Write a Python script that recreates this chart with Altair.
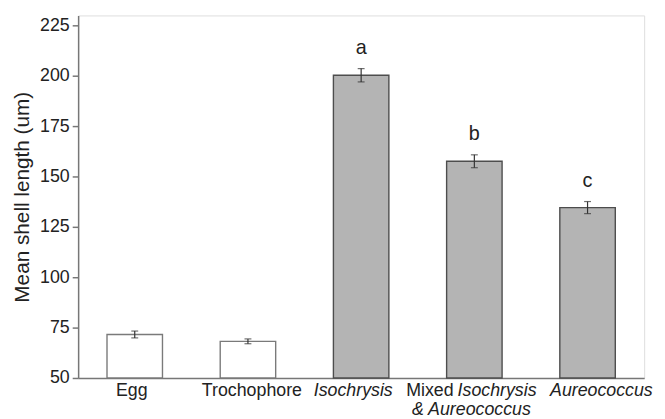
import altair as alt
import pandas as pd

categories = ["Egg", "Trochophore", "Isochrysis", "Mixed", "Aureococcus"]
means = [71.6, 68.2, 200.3, 157.6, 134.6]
errors = [1.7, 1.2, 3.3, 3.2, 3.0]
letters = ["", "", "a", "b", "c"]
groups = ["stage", "stage", "diet", "diet", "diet"]

label_cats = ["Egg", "Trochophore", "Isochrysis", "Mixed", "Mixed", "Mixed", "Aureococcus"]
label_texts = ["Egg", "Trochophore", "Isochrysis", "Mixed", "Isochrysis", "& Aureococcus", "Aureococcus"]
label_styles = ["normal", "normal", "italic", "normal", "italic", "italic", "italic"]
label_aligns = ["center", "center", "center", "right", "left", "center", "center"]
label_dx = [-3, 4, -8, -21, -17, -3, 14]
label_dy = [18, 18, 18, 18, 18, 37, 18]

FONT = "Liberation Sans"

df = pd.DataFrame({
    "cat": categories,
    "mean": means,
    "lo": [m - e for m, e in zip(means, errors)],
    "hi": [m + e for m, e in zip(means, errors)],
    "letter": letters,
    "group": groups,
})

xscale = alt.Scale(domain=categories, paddingInner=0.51, paddingOuter=0.255)
yscale = alt.Scale(domain=[50, 230], nice=False, zero=False)

x = alt.X("cat:N", scale=xscale, sort=categories,
          axis=alt.Axis(labels=False, ticks=False, title=None, domainColor="#777777", domainWidth=1.5))
base = alt.Chart(df)

bars = base.mark_bar(strokeWidth=1.4).encode(
    x=x,
    y=alt.Y("mean:Q", scale=yscale,
            axis=alt.Axis(values=[50, 75, 100, 125, 150, 175, 200, 225], title="Mean shell length (um)",
                          grid=False, tickSize=6, tickColor="#777777", tickWidth=1.5,
                          domainColor="#777777", domainWidth=1.5,
                          labelFontSize=18, labelColor="#222222", labelPadding=3, labelFont=FONT,
                          titleFontSize=21, titleFontWeight="normal", titleColor="#222222",
                          titleFont=FONT, titlePadding=7)),
    y2=alt.Y2(datum=50),
    fill=alt.Fill("group:N", scale=alt.Scale(domain=["stage", "diet"], range=["#ffffff", "#b4b4b4"]), legend=None),
    stroke=alt.Stroke("group:N", scale=alt.Scale(domain=["stage", "diet"], range=["#7a7a7a", "#4d4d4d"]), legend=None),
)

err_rule = base.mark_rule(color="#333333", strokeWidth=1.2).encode(
    x=x, y=alt.Y("lo:Q", scale=yscale), y2="hi:Q"
)
err_top = base.mark_tick(color="#333333", thickness=1.2, size=7, orient="horizontal").encode(
    x=x, y=alt.Y("hi:Q", scale=yscale)
)
err_bot = base.mark_tick(color="#333333", thickness=1.2, size=7, orient="horizontal").encode(
    x=x, y=alt.Y("lo:Q", scale=yscale)
)

letter_text = base.mark_text(fontSize=20, font=FONT, color="#222222", baseline="alphabetic", dy=-15).encode(
    x=x, y=alt.Y("hi:Q", scale=yscale), text="letter:N"
)

ldf = pd.DataFrame({"cat": label_cats, "text": label_texts, "idx": list(range(len(label_cats)))})
label_layers = []
for i in range(len(label_cats)):
    label_layers.append(
        alt.Chart(ldf).transform_filter(alt.datum.idx == i).mark_text(
            fontSize=18, font=FONT, color="#222222", baseline="alphabetic",
            align=label_aligns[i], dx=label_dx[i], dy=label_dy[i], fontStyle=label_styles[i]
        ).encode(x=x, y=alt.Y(datum=50, scale=yscale), text="text:N")
    )

chart = alt.layer(bars, err_rule, err_top, err_bot, letter_text, *label_layers).properties(
    width=573, height=367,
    padding={"left": 71, "top": 5, "right": 13, "bottom": 40},
    autosize=alt.AutoSizeParams(type="none"),
    background="#ffffff",
).configure_view(stroke=None).configure(font=FONT)

chart.save("out.html", embed_options={"renderer": "svg", "actions": False})
